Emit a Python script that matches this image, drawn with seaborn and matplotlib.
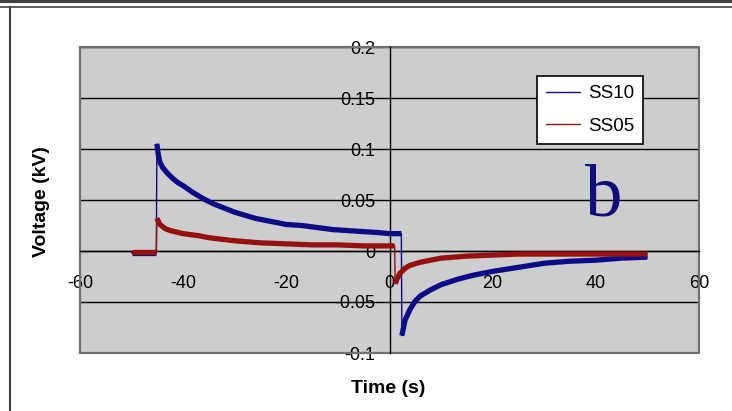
import numpy as np
import pandas as pd
import matplotlib
matplotlib.use("Agg")
import matplotlib.pyplot as plt
from matplotlib.lines import Line2D
from matplotlib.patches import Rectangle
import seaborn as sns

# ---- data ----
t_ss10 = [-50, -47, -45.2,
          -45.1, -44.8, -44.5, -44, -43, -42, -41, -40, -38, -36, -34, -32, -30, -28, -26, -24, -22,
          -20, -17, -14, -11, -8, -5, -2, 0, 2.3,
          2.4, 2.6, 3, 4, 5, 6, 8, 10, 13, 16, 20, 25, 30, 35, 40, 45, 50]
v_ss10 = [-0.002, -0.002, -0.002,
          0.105, 0.094, 0.087, 0.082, 0.076, 0.071, 0.067, 0.064, 0.057, 0.051, 0.046, 0.042, 0.038, 0.035, 0.032, 0.030, 0.028,
          0.026, 0.025, 0.023, 0.021, 0.020, 0.019, 0.018, 0.017, 0.017,
          -0.083, -0.078, -0.068, -0.057, -0.049, -0.044, -0.038, -0.033, -0.028, -0.024, -0.020, -0.016, -0.012, -0.010, -0.009, -0.007, -0.006]
seg_ss10 = [0] * 3 + [1] * 26 + [2] * 17

t_ss05 = [-50, -47, -45.2,
          -45.1, -44.5, -43.5, -42.5, -40, -37, -35, -30, -25, -20, -15, -10, -5, 0, 1.0,
          1.1, 1.4, 2, 3, 4, 6, 8, 10, 15, 20, 25, 30, 40, 50]
v_ss05 = [-0.001, -0.001, -0.001,
          0.032, 0.026, 0.022, 0.020, 0.017, 0.015, 0.013, 0.010, 0.008, 0.007, 0.006, 0.006, 0.005, 0.005, 0.005,
          -0.032, -0.028, -0.022, -0.017, -0.014, -0.011, -0.009, -0.007, -0.005, -0.004, -0.003, -0.003, -0.003, -0.003]
seg_ss05 = [0] * 3 + [1] * 15 + [2] * 14

series_names = ["SS10", "SS05"]
colors = {"SS10": "#0c0c88", "SS05": "#961010"}

x_ticks = [-60, -40, -20, 0, 20, 40, 60]
x_labels = ["-60", "-40", "-20", "0", "20", "40", "60"]
y_ticks = [-0.1, -0.05, 0, 0.05, 0.1, 0.15, 0.2]
y_labels = ["-0.1", "-0.05", "0", "0.05", "0.1", "0.15", "0.2"]

df = pd.concat([
    pd.DataFrame({"t": t_ss10, "v": v_ss10, "seg": seg_ss10, "series": "SS10"}),
    pd.DataFrame({"t": t_ss05, "v": v_ss05, "seg": seg_ss05, "series": "SS05"}),
], ignore_index=True)

sns.set_style("white")
plt.rcParams["font.family"] = ["Liberation Sans", "DejaVu Sans"]
plt.rcParams["text.color"] = "black"
plt.rcParams["xtick.color"] = "black"
plt.rcParams["ytick.color"] = "black"
plt.rcParams["axes.labelcolor"] = "black"

W, H = 732, 411
fig = plt.figure(figsize=(W / 100, H / 100), dpi=100)
ax = fig.add_axes([80 / W, (H - 353) / H, 619 / W, 306 / H])
ax.set_facecolor("#cdcdcd")

# thin line including the jumps
sns.lineplot(data=df, x="t", y="v", hue="series", hue_order=series_names, palette=colors,
             estimator=None, sort=False, units="series", lw=1.0, legend=False, ax=ax, zorder=3)
# thick noisy band on continuous segments
df["unit"] = df["series"] + df["seg"].astype(str)
sns.lineplot(data=df, x="t", y="v", hue="series", hue_order=series_names, palette=colors,
             estimator=None, sort=False, units="unit", lw=3.8, legend=False, ax=ax, zorder=3,
             solid_capstyle="butt")

ax.set_xlim(-60, 60)
ax.set_ylim(-0.1, 0.2)

# axes crossing at zero
for s in ["top", "right"]:
    ax.spines[s].set_visible(False)
ax.spines["left"].set_position(("data", 0))
ax.spines["bottom"].set_position(("data", 0))
for s in ["left", "bottom"]:
    ax.spines[s].set_color("black")
    ax.spines[s].set_linewidth(1.0)

ax.set_xticks(x_ticks, labels=x_labels)
ax.set_yticks(y_ticks, labels=y_labels)
ax.tick_params(axis="y", direction="out", length=5, width=1, color="black", pad=5, labelsize=13)
ax.tick_params(axis="x", direction="out", length=4, width=1, color="black", pad=13, labelsize=13)
ax.grid(axis="y", color="black", lw=1.0)
ax.grid(axis="x", visible=False)
ax.set_axisbelow(True)

# plot area border
ax.add_patch(Rectangle((0, 0), 1, 1, transform=ax.transAxes, fill=False,
                       edgecolor="#707070", lw=1.6, zorder=1, clip_on=False))

ax.set_xlabel("")
ax.set_ylabel("")
fig.text(388 / W, 1 - 388 / H, "Time (s)", ha="center", va="center",
         fontsize=14, fontweight="bold")
fig.text(42 / W, 1 - 202 / H, "Voltage (kV)", ha="center", va="center",
         rotation=90, fontsize=14, fontweight="bold")

# legend
handles = [Line2D([], [], color=colors[n], lw=1.0) for n in series_names]
leg = ax.legend(handles, series_names, loc="upper left",
                bbox_to_anchor=((537 - 80) / 619, (353 - 76) / 306), borderaxespad=0,
                frameon=True, fancybox=False, framealpha=1, edgecolor="black",
                fontsize=13.5, handlelength=1.8, handletextpad=0.4, labelspacing=0.8,
                borderpad=0.5)
leg.get_frame().set_linewidth(1.2)
leg.set_zorder(5)

# panel letter
fig.text(604 / W, 1 - 215 / H, "b", ha="center", va="baseline", fontsize=54,
         family="Liberation Serif", color="#10107a")

# outer frame
fig.add_artist(Line2D([0, 1], [1 - 1.5 / H, 1 - 1.5 / H], transform=fig.transFigure,
                      color="#404040", lw=2.2))
fig.add_artist(Line2D([0, 1], [1 - 7 / H, 1 - 7 / H], transform=fig.transFigure,
                      color="#404040", lw=1.2))
fig.add_artist(Line2D([10 / W, 10 / W], [0, 1 - 7 / H], transform=fig.transFigure,
                      color="#404040", lw=1.5))

fig.savefig("out.png", dpi=100, facecolor="white")
